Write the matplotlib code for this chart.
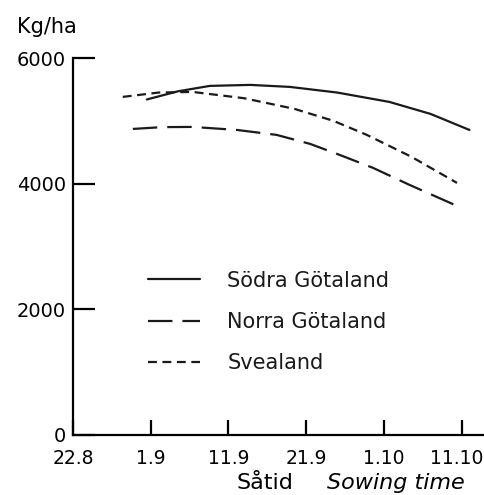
import matplotlib
matplotlib.use("Agg")
from matplotlib import pyplot as plt
from matplotlib import transforms

# x = days after 22.8
tick_days = [0, 10, 20, 30, 40, 50]
tick_labels = ['22.8', '1.9', '11.9', '21.9', '1.10', '11.10']

sodra_x = [9.5, 13.5, 17.6, 22.8, 27.9, 34.0, 40.7, 46.0, 51.0]
sodra_y = [5340, 5470, 5556, 5572, 5540, 5450, 5301, 5110, 4855]

norra_x = [7.7, 11.5, 15.4, 21.1, 26.2, 30.5, 34.3, 38.6, 43.3, 49.4]
norra_y = [4871, 4900, 4903, 4855, 4776, 4633, 4458, 4251, 3980, 3646]

svea_x = [6.4, 11.0, 15.4, 22.0, 28.5, 33.5, 37.8, 43.5, 49.4]
svea_y = [5381, 5450, 5460, 5360, 5190, 5000, 4776, 4430, 4012]

series_labels = ['Södra Götaland', 'Norra Götaland', 'Svealand']


def setAxes(ax):
    ax.set_xlim(0, 53)
    ax.set_ylim(0, 6000)
    ax.spines['top'].set_visible(False)
    ax.spines['right'].set_visible(False)
    for s in ['left', 'bottom']:
        ax.spines[s].set_linewidth(1.6)
    ax.set_xticks(tick_days)
    ax.set_xticklabels(tick_labels)
    ax.set_yticks([0, 2000, 4000, 6000])
    ax.set_yticklabels(['0', '2000', '4000', '6000'])
    ax.tick_params(axis='y', direction='in', length=16, width=1.6, pad=5, labelsize=14)
    ax.tick_params(axis='x', direction='in', length=11, width=1.6, pad=10, labelsize=13.5)


def main():
    fig = plt.figure(figsize=(4.85, 4.95), dpi=100)
    ax = fig.add_axes([73 / 485, 60 / 495, (485 - 73) / 485, 377 / 495])
    setAxes(ax)

    # last date label sits a little left of its tick, as in the original
    last = ax.get_xticklabels()[-1]
    last.set_transform(last.get_transform() +
                       transforms.ScaledTranslation(-5 / 100, 0, fig.dpi_scale_trans))

    lw = 1.6
    ax.plot(sodra_x, sodra_y, color='#1a1a1a', lw=lw, linestyle='-',
            label=series_labels[0], solid_capstyle='round')
    ax.plot(norra_x, norra_y, color='#1a1a1a', lw=lw, linestyle=(0, (11, 4.5)),
            label=series_labels[1])
    ax.plot(svea_x, svea_y, color='#1a1a1a', lw=lw, linestyle=(0, (4, 2.5)),
            label=series_labels[2])

    leg = ax.legend(loc='upper left', bbox_to_anchor=(0.182, 0.436), frameon=False,
                    fontsize=15, handlelength=2.5, handletextpad=1.3,
                    labelspacing=1.02, borderpad=0, borderaxespad=0)
    for t in leg.get_texts():
        t.set_color('#1a1a1a')

    fig.text(17 / 485, 1 - 27 / 495, 'Kg/ha', fontsize=15, va='center', ha='left')
    fig.text(237 / 485, 1 - 483 / 495, 'Såtid', fontsize=16, va='center', ha='left')
    fig.text(327 / 485, 1 - 483 / 495, 'Sowing time', fontsize=16, va='center',
             ha='left', style='italic')

    fig.savefig('out.png', dpi=100)


if __name__ == "__main__":
    main()
